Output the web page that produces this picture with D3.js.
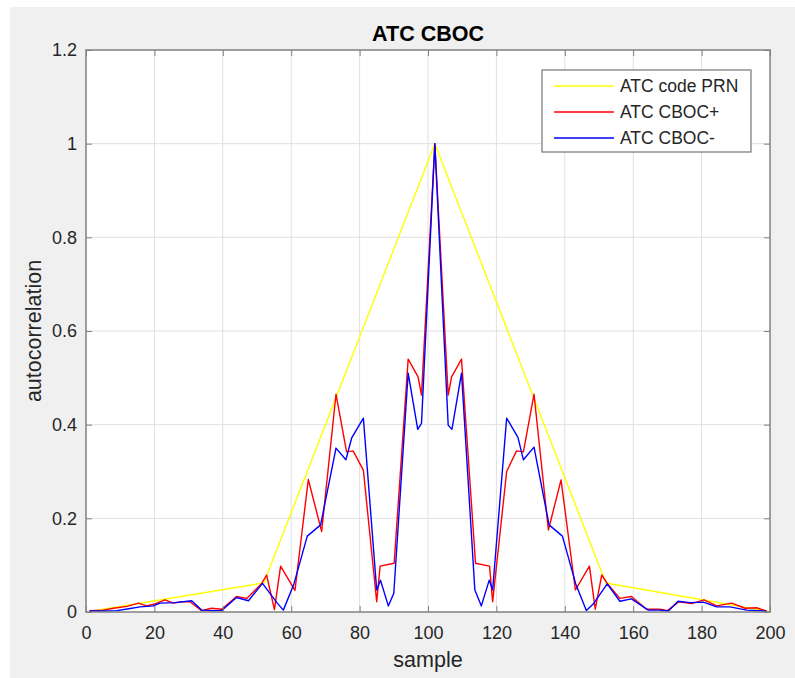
<!DOCTYPE html>
<html>
<head>
<meta charset="utf-8">
<script src="https://cdn.jsdelivr.net/npm/d3@7"></script>
<style>
  html, body { margin: 0; padding: 0; background: #ffffff; }
  svg { display: block; }
  text { font-family: "Liberation Sans", Arial, Helvetica, sans-serif; }
</style>
</head>
<body>
<svg id="chart" width="795" height="678"></svg>
<script>
// ---------------- data ----------------
const title = "ATC CBOC";
const xLabel = "sample";
const yLabel = "autocorrelation";
const seriesNames = ["ATC code PRN", "ATC CBOC+", "ATC CBOC-"];
const seriesColors = ["#ffff00", "#ff0000", "#0000ff"];

const xTicks = [0, 20, 40, 60, 80, 100, 120, 140, 160, 180, 200];
const yTicks = [0, 0.2, 0.4, 0.6, 0.8, 1, 1.2];

const prnSamples = [1, 52, 102, 152, 200];
const prnValues  = [0.001, 0.062, 1.0, 0.062, 0.001];

const plusSamples = [1, 5, 8, 12, 15.3, 17.7, 20, 23.1, 25.5, 28, 30.4, 33.8, 36.7, 39.7, 44, 47, 51.4, 52.8, 55.1, 56.9,
  61.1, 65, 68.9, 73.1, 76.2, 78.1, 81.1, 85, 86, 90.1, 94.2, 97.1, 98.1, 102,
  105.9, 106.9, 109.8, 113.9, 118, 118.9, 123, 125.9, 127.9, 131, 135.2, 138.9, 143.1, 147.2, 148.9, 150.8,
  152.4, 156.1, 159.5, 163.9, 167.8, 170, 173.4, 177.1, 180.7, 184.4, 188.8, 192.7, 196.1, 199];
const plusValues = [0.003, 0.004, 0.008, 0.012, 0.019, 0.013, 0.017, 0.026, 0.019, 0.022, 0.022, 0.003, 0.008, 0.006, 0.033, 0.029, 0.061, 0.079, 0.005, 0.098,
  0.046, 0.283, 0.172, 0.465, 0.342, 0.344, 0.303, 0.022, 0.098, 0.104, 0.54, 0.502, 0.463, 1.0,
  0.463, 0.502, 0.54, 0.104, 0.098, 0.022, 0.30, 0.344, 0.342, 0.465, 0.175, 0.282, 0.047, 0.098, 0.006, 0.079,
  0.061, 0.029, 0.033, 0.006, 0.006, 0.003, 0.022, 0.018, 0.026, 0.013, 0.019, 0.008, 0.009, 0.002];

const minusSamples = [1, 5, 9, 12.5, 15.8, 19.7, 21.6, 26, 30.9, 33.8, 36.7, 39.7, 44, 47.5, 51.6, 55.8, 57.7,
  60.8, 64.7, 68.6, 73.1, 76, 77.7, 81.1, 85, 86.1, 88.4, 90, 94.2, 97, 98.1, 102,
  105.9, 107, 109.8, 113.7, 115.6, 117.9, 118.9, 123, 126.3, 127.9, 131, 135.4, 139.3, 143.2, 146.3, 148.3,
  152.4, 156.1, 159.5, 164.4, 167.8, 170.3, 173.1, 176.6, 180.5, 184.4, 188.3, 193.2, 199];
const minusValues = [0.002, 0.002, 0.003, 0.007, 0.011, 0.013, 0.019, 0.02, 0.024, 0.004, 0.003, 0.003, 0.031, 0.024, 0.061, 0.02, 0.004,
  0.06, 0.162, 0.186, 0.35, 0.325, 0.372, 0.414, 0.047, 0.068, 0.013, 0.04, 0.51, 0.39, 0.403, 1.0,
  0.399, 0.39, 0.51, 0.047, 0.013, 0.068, 0.047, 0.414, 0.373, 0.325, 0.352, 0.186, 0.162, 0.06, 0.003, 0.017,
  0.06, 0.023, 0.028, 0.004, 0.004, 0.002, 0.023, 0.02, 0.021, 0.011, 0.011, 0.004, 0.002];

// ---------------- layout ----------------
const svg = d3.select("#chart");
const W = 795, H = 678;
const plot = { left: 86, top: 50, right: 770, bottom: 612 };

// figure background (MATLAB grey)
svg.append("rect").attr("x", 10).attr("y", 7).attr("width", W - 10).attr("height", H - 7).attr("fill", "#f0f0f0");

const x = d3.scaleLinear().domain([0, 200]).range([plot.left, plot.right]);
const y = d3.scaleLinear().domain([0, 1.2]).range([plot.bottom, plot.top]);

// axes background
svg.append("rect").attr("x", plot.left).attr("y", plot.top)
  .attr("width", plot.right - plot.left).attr("height", plot.bottom - plot.top).attr("fill", "#ffffff");

// grid
const grid = svg.append("g");
grid.selectAll("line.gx").data(xTicks.slice(1, -1)).enter().append("line")
  .attr("x1", d => x(d)).attr("x2", d => x(d)).attr("y1", plot.top).attr("y2", plot.bottom)
  .attr("stroke", "#e0e0e0").attr("stroke-width", 1);
grid.selectAll("line.gy").data(yTicks.slice(1, -1)).enter().append("line")
  .attr("y1", d => y(d)).attr("y2", d => y(d)).attr("x1", plot.left).attr("x2", plot.right)
  .attr("stroke", "#e0e0e0").attr("stroke-width", 1);

// series
const line = d3.line().x(d => x(d[0])).y(d => y(d[1]));
const series = [
  d3.zip(prnSamples, prnValues),
  d3.zip(plusSamples, plusValues),
  d3.zip(minusSamples, minusValues)
];
series.forEach((s, i) => {
  svg.append("path").datum(s).attr("d", line)
    .attr("fill", "none").attr("stroke", seriesColors[i]).attr("stroke-width", 1.4)
    .attr("stroke-linejoin", "round");
});

// axes with inward ticks
const tickLen = 6;
const axisColor = "#808080";
const labelColor = "#262626";
const fmt = d => (d === 0 ? "0" : d3.format("~g")(d));

const xb = svg.append("g").attr("transform", `translate(0,${plot.bottom})`)
  .call(d3.axisBottom(x).tickValues(xTicks).tickSize(-tickLen).tickPadding(14).tickFormat(fmt));
const xt = svg.append("g").attr("transform", `translate(0,${plot.top})`)
  .call(d3.axisTop(x).tickValues(xTicks).tickSize(-tickLen).tickFormat(""));
const yl = svg.append("g").attr("transform", `translate(${plot.left},0)`)
  .call(d3.axisLeft(y).tickValues(yTicks).tickSize(-tickLen).tickPadding(9).tickFormat(fmt));
const yr = svg.append("g").attr("transform", `translate(${plot.right},0)`)
  .call(d3.axisRight(y).tickValues(yTicks).tickSize(-tickLen).tickFormat(""));

[xb, xt, yl, yr].forEach(g => {
  g.select(".domain").remove();
  g.selectAll(".tick line").attr("stroke", axisColor).attr("stroke-width", 1);
  g.selectAll("text").attr("fill", labelColor).attr("font-size", 18)
    .attr("font-family", "'Liberation Sans', Arial, sans-serif");
});

// box
svg.append("rect").attr("x", plot.left).attr("y", plot.top)
  .attr("width", plot.right - plot.left).attr("height", plot.bottom - plot.top)
  .attr("fill", "none").attr("stroke", axisColor).attr("stroke-width", 1.5);

// title & labels
svg.append("text").attr("x", (plot.left + plot.right) / 2).attr("y", 41)
  .attr("text-anchor", "middle").attr("font-weight", "bold").attr("font-size", 21.5)
  .attr("fill", "#000").text(title);
svg.append("text").attr("x", (plot.left + plot.right) / 2).attr("y", 667)
  .attr("text-anchor", "middle").attr("font-size", 21.5).attr("fill", labelColor).text(xLabel);
svg.append("text").attr("transform", `translate(41,${(plot.top + plot.bottom) / 2}) rotate(-90)`)
  .attr("text-anchor", "middle").attr("font-size", 21.5).attr("fill", labelColor).text(yLabel);

// legend
const lg = svg.append("g");
lg.append("rect").attr("x", 542).attr("y", 70).attr("width", 209).attr("height", 82)
  .attr("fill", "#ffffff").attr("stroke", "#808080").attr("stroke-width", 1.3);
seriesNames.forEach((name, i) => {
  const cy = 86 + i * 26;
  lg.append("line").attr("x1", 554).attr("x2", 614).attr("y1", cy).attr("y2", cy)
    .attr("stroke", seriesColors[i]).attr("stroke-width", 1.4);
  lg.append("text").attr("x", 620).attr("y", cy + 6).attr("font-size", 17.5)
    .attr("fill", labelColor).text(name);
});
</script>
</body>
</html>
